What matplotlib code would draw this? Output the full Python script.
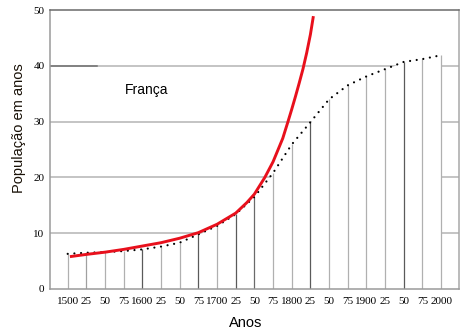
import matplotlib
matplotlib.use("Agg")
import matplotlib.pyplot as plt

# Observed population series (dotted), sampled every 25 years
obs_years = [1500, 1525, 1550, 1575, 1600, 1625, 1650, 1675, 1700, 1725,
             1750, 1775, 1800, 1825, 1850, 1875, 1900, 1925, 1950, 1975, 2000]
obs_values = [6.3, 6.5, 6.6, 6.8, 7.1, 7.6, 8.3, 9.8, 11.3, 13.4,
              16.5, 20.8, 25.9, 29.9, 34.0, 36.5, 38.1, 39.4, 40.7, 41.2, 41.9]

# Growth trend (red curve)
trend_years = [1503, 1525, 1550, 1575, 1600, 1625, 1650, 1675, 1700, 1725,
               1740, 1750, 1764, 1775, 1788, 1795, 1800, 1805, 1810, 1815,
               1820, 1825, 1829]
trend_values = [5.8, 6.2, 6.6, 7.1, 7.7, 8.3, 9.1, 10.1, 11.6, 13.6,
                15.5, 17.0, 20.0, 22.8, 27.0, 30.0, 32.2, 34.5, 36.9, 39.4,
                42.3, 45.6, 48.9]

x_tick_labels = ["1500", "25", "50", "75", "1600", "25", "50", "75", "1700", "25", "50",
                 "75", "1800", "25", "50", "75", "1900", "25", "50", "75", "2000"]
y_ticks = [0, 10, 20, 30, 40, 50]

# Stroke shade of each vertical stem
stem_colors = ["#b0b0b0", "#a0a0a0", "#b0b0b0", "#b0b0b0", "#5a5a5a", "#b0b0b0", "#b0b0b0",
               "#5a5a5a", "#b0b0b0", "#5a5a5a", "#6a6a6a", "#b0b0b0", "#b0b0b0", "#5a5a5a",
               "#b0b0b0", "#b0b0b0", "#b0b0b0", "#b0b0b0", "#5a5a5a", "#b0b0b0", "#b0b0b0"]

W, H = 462, 330
fig = plt.figure(figsize=(W / 100, H / 100), dpi=100)
left, right, top, bottom = 50, 459, 10, 289
ax = fig.add_axes([left / W, 1 - bottom / H, (right - left) / W, (bottom - top) / H])

ax.set_xlim(1476.3, 2024.0)
ax.set_ylim(0, 50)

# horizontal guide lines, hidden underneath the observed curve
for yv in y_ticks[1:-1]:
    ax.axhline(yv, color="#b4b4b4", lw=1.1, zorder=1)
ax.axhline(40, xmin=0, xmax=0.115, color="#707070", lw=1.1, zorder=1.2)
ax.fill_between(obs_years, obs_values, 0, color="white", lw=0, zorder=1.5)

# vertical stems
ax.vlines(obs_years, 0, obs_values, colors=stem_colors, lw=0.9, zorder=2)

# observed curve (dotted)
ax.plot(obs_years, obs_values, color="black", lw=1.6,
        linestyle=(0, (0.01, 3.0)), dash_capstyle="round", zorder=3)

# trend curve
ax.plot(trend_years, trend_values, color="#e8101c", lw=2.1,
        solid_capstyle="butt", solid_joinstyle="round", zorder=4)

ax.set_xticks(obs_years)
ax.set_xticklabels(x_tick_labels, family="Liberation Serif", fontsize=8)
ax.set_yticks(y_ticks)
ax.set_yticklabels([str(v) for v in y_ticks], family="Liberation Serif", fontsize=8)
ax.tick_params(axis="x", length=0, pad=6)
ax.tick_params(axis="y", length=0, pad=4)

for side, col in [("left", "#9a9a9a"), ("bottom", "#9a9a9a"),
                  ("top", "#6a6a6a"), ("right", "#a8a8a8")]:
    ax.spines[side].set_color(col)
    ax.spines[side].set_linewidth(1.1)

fig.text(18.8 / W, 1 - 128.5 / H, "População em anos", rotation=90,
         ha="center", va="center", family="Liberation Sans", fontsize=10.5,
         color="#1a1208")
fig.text(246 / W, 1 - 326.7 / H, "Anos", ha="center", va="baseline",
         family="Liberation Sans", fontsize=10.5)
fig.text(146.5 / W, 1 - 90 / H, "França", ha="center", va="center",
         family="Liberation Sans", fontsize=10)

fig.savefig("out.png", dpi=100)
